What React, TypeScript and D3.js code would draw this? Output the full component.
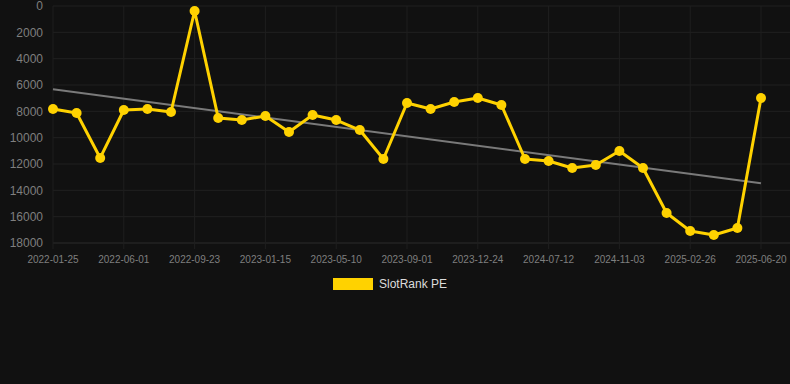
import { useMemo } from "react";
import * as d3 from "d3";

const dates = [
  "2022-01-25", "2022-03-08", "2022-04-20", "2022-06-01", "2022-07-09", "2022-08-16",
  "2022-09-23", "2022-10-31", "2022-12-08", "2023-01-15", "2023-02-22", "2023-04-02",
  "2023-05-10", "2023-06-17", "2023-07-25", "2023-09-01", "2023-10-09", "2023-11-16",
  "2023-12-24", "2024-03-01", "2024-05-06", "2024-07-12", "2024-08-19", "2024-09-26",
  "2024-11-03", "2024-12-11", "2025-01-18", "2025-02-26", "2025-04-05", "2025-05-13",
  "2025-06-20",
];

const rank = [
  7820, 8130, 11540, 7900, 7820, 8050, 380, 8500, 8660, 8350, 9570, 8280, 8660, 9420,
  11620, 7370, 7820, 7290, 6990, 7520, 11620, 11770, 12300, 12080, 11010, 12300, 15720,
  17090, 17390, 16860, 6990,
];

const yTicks = [0, 2000, 4000, 6000, 8000, 10000, 12000, 14000, 16000, 18000];
const seriesName = "SlotRank PE";

const W = 790, H = 384;
const FONT = "'Liberation Sans', Arial, Helvetica, sans-serif";
const GOLD = "#ffd200";

export default function App() {
  const x = d3.scalePoint<string>().domain(dates).range([53, 761]);
  const y = d3.scaleLinear().domain([0, 18000]).range([6, 243]);

  // linear regression trend over index
  const trend = useMemo(() => {
    const n = rank.length;
    const mx = (n - 1) / 2;
    const my = d3.mean(rank)!;
    let num = 0, den = 0;
    rank.forEach((v, i) => { num += (i - mx) * (v - my); den += (i - mx) ** 2; });
    const b = num / den, a = my - b * mx;
    return [0, n - 1].map((i) => [dates[i], a + b * i] as [string, number]);
  }, []);

  const line = d3.line<number>().x((_, i) => x(dates[i])!).y((d) => y(d));
  const tline = d3.line<[string, number]>().x((d) => x(d[0])!).y((d) => y(d[1]));
  const shown = dates.filter((_, i) => i % 3 === 0);

  return (
    <svg width={W} height={H} style={{ position: "absolute", left: 0, top: 0, display: "block" }}>
      <rect width={W} height={H} fill="#111111" />

      {/* grid */}
      {yTicks.map((t) => (
        <line key={t} x1={53} x2={W} y1={y(t)} y2={y(t)}
          stroke={t === 18000 ? "#2c2c2c" : "#212121"} strokeWidth={1} />
      ))}
      {shown.map((d) => (
        <line key={d} x1={x(d)} x2={x(d)} y1={6} y2={249} stroke="#1f1f1f" strokeWidth={1} />
      ))}

      {/* y labels */}
      {yTicks.map((t) => (
        <text key={t} x={43} y={y(t) + 4.3} textAnchor="end" fill="#7f7f7f"
          fontSize={12} fontFamily={FONT}>{t}</text>
      ))}
      {/* x labels */}
      {shown.map((d) => (
        <text key={d} x={x(d)} y={262.5} textAnchor="middle" fill="#7f7f7f"
          fontSize={10} fontFamily={FONT}>{d}</text>
      ))}

      {/* trend */}
      <path d={tline(trend)!} fill="none" stroke="#7a7a7a" strokeWidth={2} />

      {/* series */}
      <path d={line(rank)!} fill="none" stroke={GOLD} strokeWidth={3} strokeLinejoin="round" />
      {rank.map((v, i) => (
        <circle key={i} cx={x(dates[i])} cy={y(v)} r={5} fill={GOLD} />
      ))}

      {/* legend */}
      <rect x={333} y={278} width={40} height={12} fill={GOLD} />
      <text x={379} y={288.3} fill="#dcdcdc" fontSize={12} fontFamily={FONT}>{seriesName}</text>
    </svg>
  );
}
